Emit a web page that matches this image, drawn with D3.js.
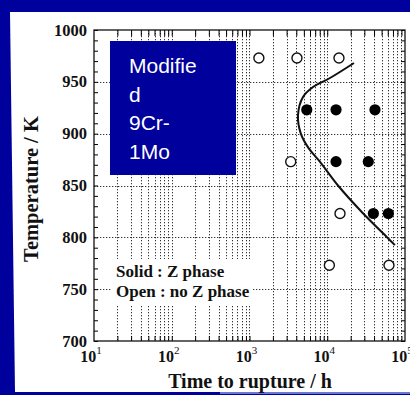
<!DOCTYPE html>
<html>
<head>
<meta charset="utf-8">
<script src="https://cdn.jsdelivr.net/npm/d3@7"></script>
<style>
  html, body { margin: 0; padding: 0; background: #00009c; }
  svg { display: block; }
</style>
</head>
<body>
<svg id="chart" width="410" height="395"></svg>
<script>
// Z-phase observations in Modified 9Cr-1Mo: rupture time (h) vs test temperature (K)
const zPhaseTime = [5450, 12970, 41100, 12970, 33700, 39200, 61100];
const zPhaseTemp = [923, 923, 923, 873, 873, 823, 823];
const noZPhaseTime = [1320, 4080, 14150, 3390, 14590, 10650, 62200];
const noZPhaseTemp = [973, 973, 973, 873, 823, 773, 773];

// Boundary curve separating the two regions
const boundaryTime = [22080, 10840, 6560, 4875, 4207, 4571, 5754, 8035, 13740, 28180, 58880, 74130];
const boundaryTemp = [968.2, 953.7, 945.0, 935.4, 918.0, 900.0, 886.0, 873.0, 850.0, 824.0, 800.0, 792.5];

const tempTicks = [700, 750, 800, 850, 900, 950, 1000];
const timeDecades = [1, 2, 3, 4, 5];
const titleLines = ["Modifie", "d", "9Cr-", "1Mo"];
const legendLines = ["Solid : Z phase", "Open : no Z phase"];

const svg = d3.select("#chart");
const serif = "'Liberation Serif', 'Times New Roman', serif";

// page frame
svg.append("rect").attr("width", 410).attr("height", 395).attr("fill", "#00009c");
svg.append("path").attr("d", "M10,12 L410,12 L410,392 L15,392 Z").attr("fill", "#ffffff");
svg.append("line").attr("x1", 220).attr("x2", 410).attr("y1", 393).attr("y2", 393)
  .attr("stroke", "#6a78d8").attr("stroke-width", 2);

const L = 94, R = 405, T = 30, B = 341;
const x = d3.scaleLog().domain([10, 1e5]).range([L, R]);
const y = d3.scaleLinear().domain([700, 1000]).range([B, T]);

// minor decade positions 2..9 x 10^n plus the decades themselves
const minorTimes = [];
for (let e = 1; e < 5; e++) for (let m = 1; m <= 9; m++) {
  const v = m * Math.pow(10, e);
  if (v > 10) minorTimes.push(v);
}

const grid = svg.append("g").attr("stroke", "#333").attr("stroke-width", 1)
  .attr("stroke-dasharray", "1.3,1.7");
grid.selectAll("line.v").data(minorTimes).join("line")
  .attr("x1", d => Math.round(x(d)) + 0.5).attr("x2", d => Math.round(x(d)) + 0.5)
  .attr("y1", T).attr("y2", B);
grid.selectAll("line.h").data(tempTicks.slice(1, -1)).join("line")
  .attr("x1", L).attr("x2", R)
  .attr("y1", d => Math.round(y(d)) + 0.5).attr("y2", d => Math.round(y(d)) + 0.5);

// axes with inward ticks on all four sides
const tempMinor = d3.range(700, 1001, 10);
svg.append("g").attr("transform", `translate(${L},0)`)
  .call(d3.axisRight(y).tickValues(tempMinor).tickSize(4).tickFormat(""))
  .call(g => g.select(".domain").remove());
svg.append("g").attr("transform", `translate(${R},0)`)
  .call(d3.axisLeft(y).tickValues(tempMinor).tickSize(4).tickFormat(""))
  .call(g => g.select(".domain").remove());
svg.append("g").attr("transform", `translate(0,${B})`)
  .call(d3.axisTop(x).tickValues(minorTimes).tickSize(5).tickFormat(""))
  .call(g => g.select(".domain").remove());
svg.append("g").attr("transform", `translate(0,${T})`)
  .call(d3.axisBottom(x).tickValues(minorTimes).tickSize(6).tickFormat(""))
  .call(g => g.select(".domain").remove());
svg.append("rect").attr("x", L).attr("y", T).attr("width", R - L).attr("height", B - T)
  .attr("fill", "none").attr("stroke", "#111").attr("stroke-width", 1.3);

// temperature tick labels
svg.append("g").selectAll("text").data(tempTicks).join("text")
  .attr("x", 87).attr("y", d => y(d) + 5.5)
  .attr("text-anchor", "end")
  .attr("font-family", serif).attr("font-weight", "bold").attr("font-size", 16.5)
  .attr("fill", "#111").text(d => d);

// time tick labels as powers of ten
const xl = svg.append("g").selectAll("text").data(timeDecades).join("text")
  .attr("x", d => x(Math.pow(10, d)) - 3).attr("y", 362)
  .attr("text-anchor", "middle")
  .attr("font-family", serif).attr("font-weight", "bold").attr("font-size", 16)
  .attr("fill", "#111");
xl.append("tspan").text("10");
xl.append("tspan").attr("dy", -8).attr("font-size", 11).attr("font-weight", "normal").text(d => d);

// axis titles
svg.append("text").attr("x", 250).attr("y", 388).attr("text-anchor", "middle")
  .attr("font-family", serif).attr("font-weight", "bold").attr("font-size", 20)
  .attr("fill", "#111").text("Time to rupture / h");
svg.append("text").attr("transform", "translate(38,189) rotate(-90)")
  .attr("text-anchor", "middle")
  .attr("font-family", serif).attr("font-weight", "bold").attr("font-size", 20.5)
  .attr("fill", "#111").text("Temperature / K");

// material label box
svg.append("rect").attr("x", 110).attr("y", 41).attr("width", 126).attr("height", 134)
  .attr("fill", "#00009c");
svg.append("g").selectAll("text").data(titleLines).join("text")
  .attr("x", 129).attr("y", (d, i) => 73 + i * 28.5)
  .attr("font-family", "'Liberation Sans', Arial, sans-serif").attr("font-size", 21)
  .attr("fill", "#ffffff").text(d => d);

// legend text on a white ground
svg.append("rect").attr("x", 112).attr("y", 259).attr("width", 141).attr("height", 46)
  .attr("fill", "#ffffff");
svg.append("g").selectAll("text").data(legendLines).join("text")
  .attr("x", 116).attr("y", (d, i) => 277 + i * 20)
  .attr("font-family", serif).attr("font-weight", "bold").attr("font-size", 17)
  .attr("fill", "#111").text(d => d);

// boundary curve
const curvePts = boundaryTime.map((t, i) => [t, boundaryTemp[i]]);
svg.append("path").datum(curvePts)
  .attr("d", d3.line().x(d => x(d[0])).y(d => y(d[1])).curve(d3.curveCatmullRom.alpha(0.5)))
  .attr("fill", "none").attr("stroke", "#111").attr("stroke-width", 2);

// observations
svg.append("g").selectAll("circle").data(noZPhaseTime.map((t, i) => [t, noZPhaseTemp[i]])).join("circle")
  .attr("cx", d => x(d[0])).attr("cy", d => y(d[1])).attr("r", 5)
  .attr("fill", "#fff").attr("stroke", "#111").attr("stroke-width", 1.4);
svg.append("g").selectAll("circle").data(zPhaseTime.map((t, i) => [t, zPhaseTemp[i]])).join("circle")
  .attr("cx", d => x(d[0])).attr("cy", d => y(d[1])).attr("r", 5.6)
  .attr("fill", "#000");
</script>
</body>
</html>
